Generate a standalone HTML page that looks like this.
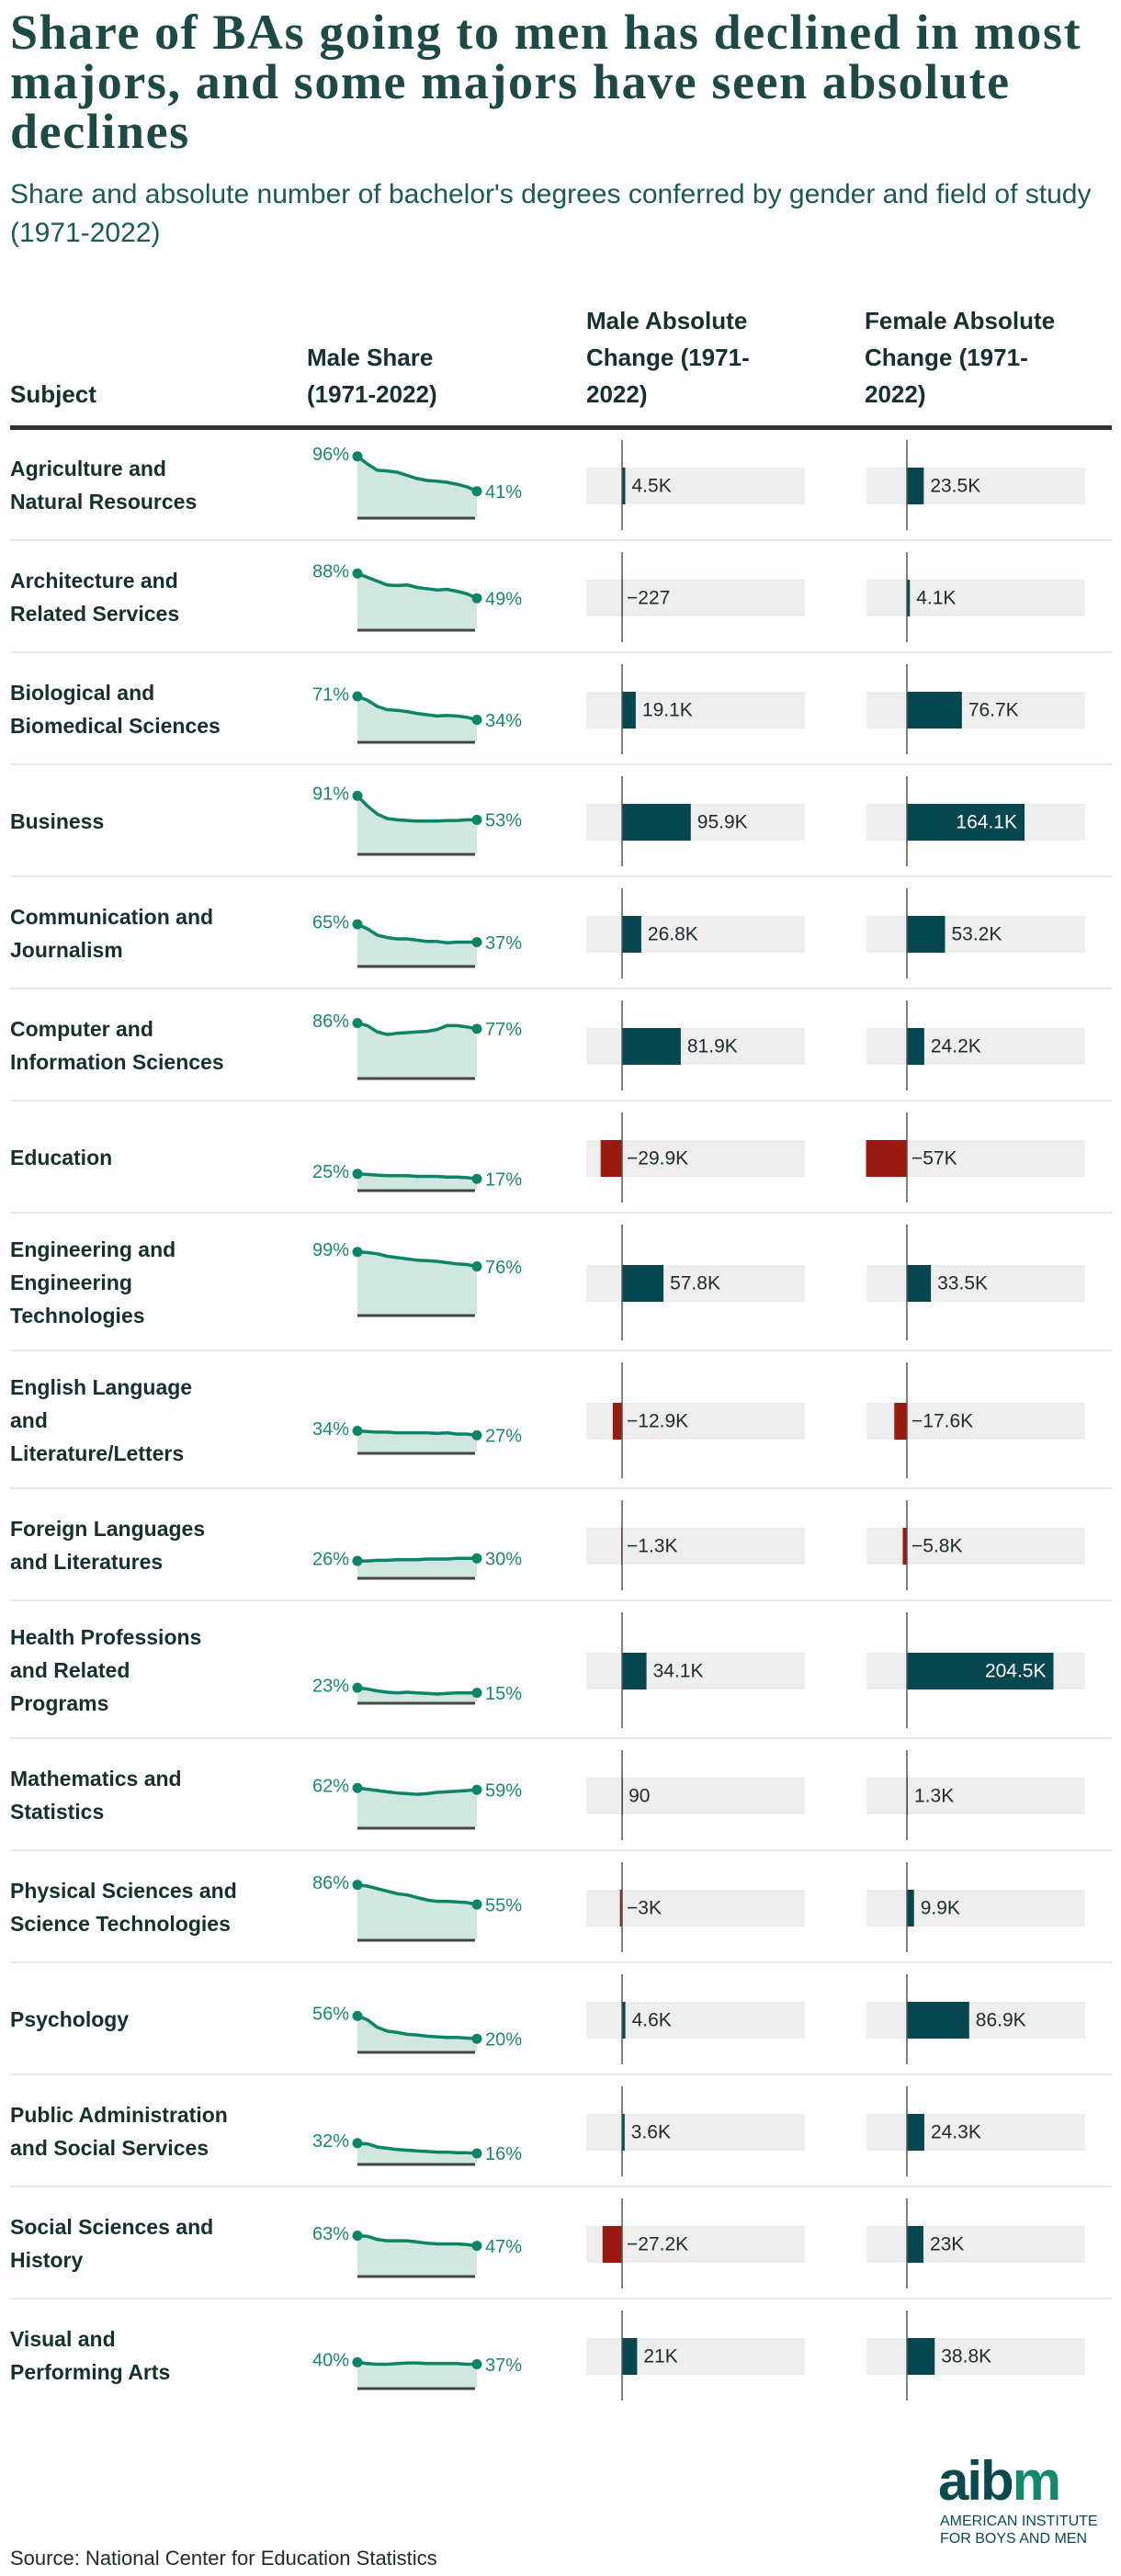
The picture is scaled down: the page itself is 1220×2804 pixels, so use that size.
<!DOCTYPE html>
<html><head><meta charset="utf-8"><style>
html,body{margin:0;padding:0;background:#fff;width:1220px;height:2804px;overflow:hidden}
#wrap{position:relative;width:1220px;height:2804px}
.t{position:absolute;left:11px;top:8px;width:1205px;font-family:"Liberation Serif",serif;font-weight:bold;font-size:54px;line-height:54px;color:#1d4a45;letter-spacing:1.6px}
.s{position:absolute;left:11px;top:191px;width:1212px;font-family:"Liberation Sans",sans-serif;font-size:30px;line-height:42px;color:#1a5a55}
.h{position:absolute;font-family:"Liberation Sans",sans-serif;font-weight:bold;font-size:26px;line-height:40px;color:#15302e}
</style></head><body><div id="wrap">
<div class="t">Share of BAs going to men has declined in most majors, and some majors have seen absolute declines</div>
<div class="s">Share and absolute number of bachelor's degrees conferred by gender and field of study (1971-2022)</div>
<div class="h" style="left:11px;top:409px">Subject</div>
<div class="h" style="left:334px;top:369px">Male Share<br>(1971-2022)</div>
<div class="h" style="left:638px;top:329px">Male Absolute<br>Change (1971-<br>2022)</div>
<div class="h" style="left:941px;top:329px">Female Absolute<br>Change (1971-<br>2022)</div>
<svg id="tbl" width="1220" height="2804" style="position:absolute;left:0;top:0"></svg>
<div style="position:absolute;left:1021px;top:2668px;font-family:'Liberation Sans',sans-serif;font-weight:bold;font-size:60px;line-height:66px;letter-spacing:-2px"><span style="color:#0a4a4f">aib</span><span style="color:#13896b">m</span></div>
<div style="position:absolute;left:1023px;top:2735px;font-family:'Liberation Sans',sans-serif;font-size:16px;line-height:19px;color:#0a4a4f">AMERICAN INSTITUTE<br>FOR BOYS AND MEN</div>
<div style="position:absolute;left:11px;top:2771px;font-family:'Liberation Sans',sans-serif;font-size:22px;line-height:28px;color:#1c2b2b">Source: National Center for Education Statistics</div>
</div>
<script>
const subjects=[["Agriculture and","Natural Resources"],["Architecture and","Related Services"],["Biological and","Biomedical Sciences"],["Business"],["Communication and","Journalism"],["Computer and","Information Sciences"],["Education"],["Engineering and","Engineering","Technologies"],["English Language","and","Literature/Letters"],["Foreign Languages","and Literatures"],["Health Professions","and Related","Programs"],["Mathematics and","Statistics"],["Physical Sciences and","Science Technologies"],["Psychology"],["Public Administration","and Social Services"],["Social Sciences and","History"],["Visual and","Performing Arts"]];
const maleShare=[
[96,84,74,73,71,66,61,58,57,55,52,48,41],
[88,82,76,70,69,70,66,64,62,63,60,56,49],
[71,65,55,50,49,47,44,42,40,41,40,38,34],
[91,75,62,55,53,52,51,51,51,52,52,53,53],
[65,58,48,44,42,42,40,38,38,36,37,37,37],
[86,82,72,68,70,71,72,73,76,82,82,80,77],
[25,24,23,22,22,22,21,21,21,20,20,19,17],
[99,98,96,92,90,88,86,85,84,82,80,79,76],
[34,33,32,32,31,31,31,31,30,31,29,29,27],
[26,26,27,27,28,28,28,29,29,29,30,30,30],
[23,21,18,16,15,16,15,14,13,14,15,15,15],
[62,60,58,56,54,53,52,53,55,56,57,58,59],
[86,84,80,76,72,70,66,62,60,60,59,58,55],
[56,50,38,32,30,27,26,24,23,22,22,21,20],
[32,31,26,24,22,21,20,19,18,18,17,17,16],
[63,62,57,55,55,55,53,51,50,50,50,49,47],
[40,38,37,37,38,39,39,38,38,38,38,37,37]];
const maleChange=[4.5,-0.227,19.1,95.9,26.8,81.9,-29.9,57.8,-12.9,-1.3,34.1,0.09,-3,4.6,3.6,-27.2,21];
const maleLabels=["4.5K","−227","19.1K","95.9K","26.8K","81.9K","−29.9K","57.8K","−12.9K","−1.3K","34.1K","90","−3K","4.6K","3.6K","−27.2K","21K"];
const femaleChange=[23.5,4.1,76.7,164.1,53.2,24.2,-57,33.5,-17.6,-5.8,204.5,1.3,9.9,86.9,24.3,23,38.8];
const femaleLabels=["23.5K","4.1K","76.7K","164.1K","53.2K","24.2K","−57K","33.5K","−17.6K","−5.8K","204.5K","1.3K","9.9K","86.9K","24.3K","23K","38.8K"];

const NS="http://www.w3.org/2000/svg";
const svg=document.getElementById('tbl');
function mk(tag,attrs,parent){const e=document.createElementNS(NS,tag);for(const k in attrs)e.setAttribute(k,attrs[k]);(parent||svg).appendChild(e);return e;}
const SANS="'Liberation Sans',sans-serif";
const sx0=389,sx1=519;
function xShare(i,n){return sx0+(sx1-sx0)*i/(n-1);}
function yShare(v,base){return base-v*0.69;}
const kScale=0.78;
function xBar(zero,v){return zero+v*kScale;}

const rule=mk('rect',{x:11,y:463,width:1199,height:5,fill:'#333'});


let rowTop=467;
subjects.forEach((lines,i)=>{
  const h=lines.length>2?150:122;
  const mid=rowTop+61+(h-122)/2;
  const g=mk('g',{});
  
  
  lines.forEach((ln,k)=>{
    const t=mk('text',{x:11,y:mid+2+(k-(lines.length-1)/2)*36,'dominant-baseline':'middle','font-family':SANS,'font-weight':'bold','font-size':23,fill:'#15302e'},g);
    t.textContent=ln;
    
    
  });
  const base=mid+35, d=maleShare[i], n=d.length;
  const pts=d.map((v,j)=>xShare(j,n).toFixed(1)+','+yShare(v,base).toFixed(1));
  const area=mk('polygon',{points:sx0+','+base+' '+pts.join(' ')+' '+sx1+','+base,fill:'#cfe7de'},g);
  
  
  const ax=mk('line',{x1:sx0,x2:sx1-2,y1:base+1,y2:base+1,stroke:'#444','stroke-width':3},g);
  
  
  const pl=mk('polyline',{points:pts.join(' '),fill:'none',stroke:'#0d8466','stroke-width':3.5,'stroke-linejoin':'round'},g);
  
  
  [[0,'start'],[n-1,'end']].forEach(([j,w])=>{
    const c=mk('circle',{cx:xShare(j,n),cy:yShare(d[j],base),r:5.5,fill:'#0d8466'},g);
    
    
    const t=mk('text',{x:j?xShare(j,n)+9:xShare(j,n)-9,y:yShare(d[j],base)+(j?2:-1),'text-anchor':j?'start':'end','dominant-baseline':'middle','font-family':SANS,'font-size':20,fill:'#1a8a6c'},g);
    t.textContent=d[j]+'%';
    
    
  });
  [[maleChange,maleLabels,677,638,'male'],[femaleChange,femaleLabels,987,943,'female']].forEach(([vals,labs,zero,bx,nm])=>{
    const v=vals[i];
    const bg=mk('rect',{x:bx,y:mid-19,width:238,height:40,fill:'#eeeeee'},g);
    
    
    const x2=xBar(zero,v);
    const b=mk('rect',{x:Math.min(zero,x2),y:mid-19,width:Math.max(Math.abs(x2-zero),1),height:40,fill:v<0?'#9a1a10':'#07474f'},g);
    
    
    const zl=mk('line',{x1:zero,x2:zero,y1:rowTop+12,y2:rowTop+h-12,stroke:'#555','stroke-width':1.5},g);
    
    
    const inside=v>130;
    const lx=inside?x2-8:(v>0?x2+7:zero+5);
    const t=mk('text',{x:lx,y:mid+2,'text-anchor':inside?'end':'start','dominant-baseline':'middle','font-family':SANS,'font-size':21,fill:inside?'#fff':'#1c2b2b'},g);
    t.textContent=labs[i];
    
    
  });
  if(i<subjects.length-1){
    const s=mk('rect',{x:11,y:rowTop+h-2,width:1199,height:2,fill:'#e8e8e8'},g);
    
    
  }
  rowTop+=h;
});
</script></body></html>
